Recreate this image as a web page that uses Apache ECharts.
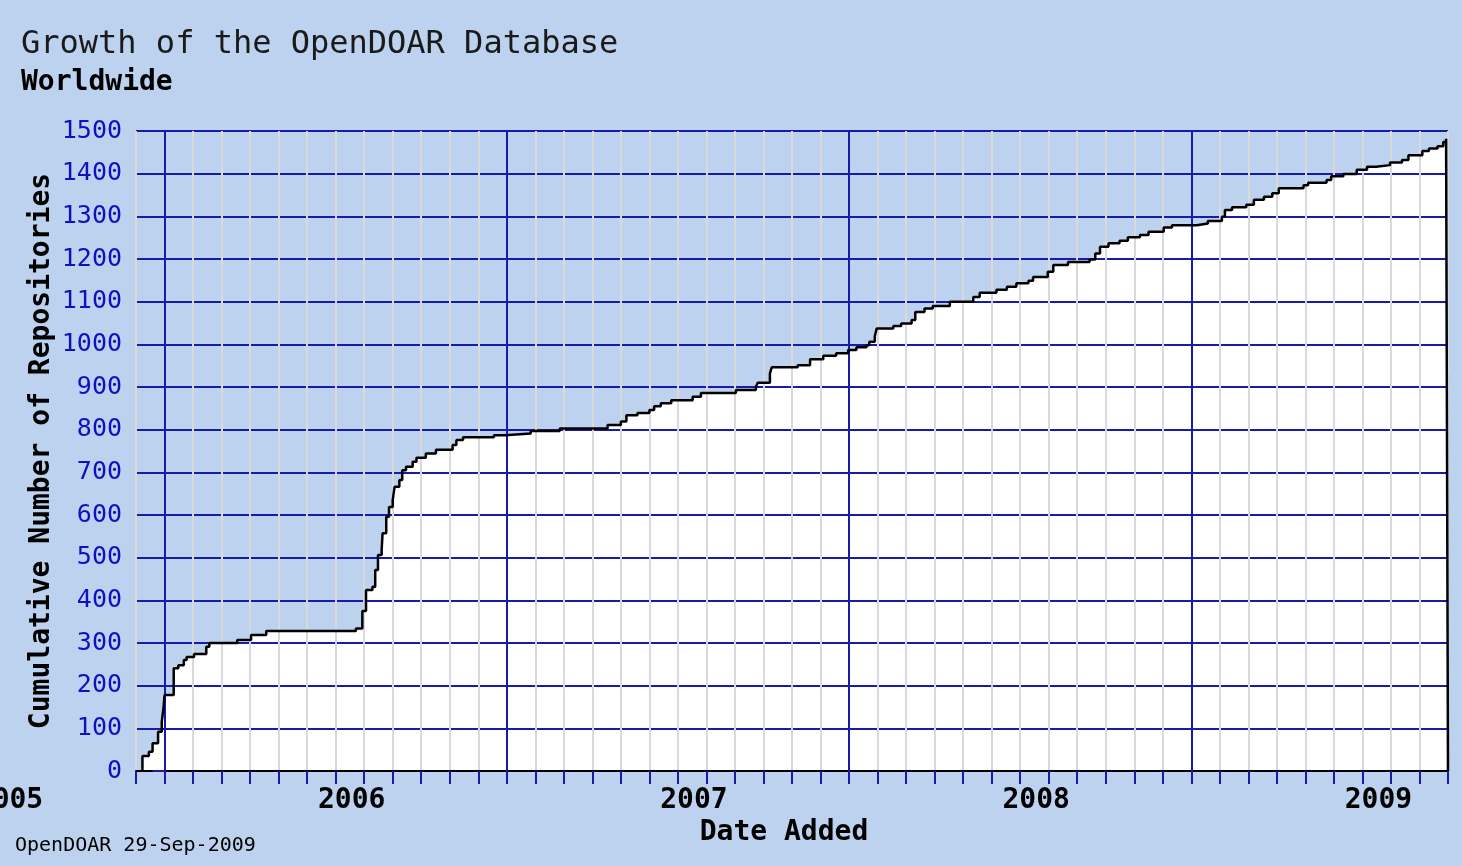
<!DOCTYPE html>
<html>
<head>
<meta charset="utf-8">
<title>Growth of the OpenDOAR Database</title>
<script src="https://cdn.jsdelivr.net/npm/echarts@6/dist/echarts.min.js"></script>
<style>
  html, body { margin: 0; padding: 0; background: #bcd2ee; }
  #main { width: 1462px; height: 866px; }
</style>
</head>
<body>
<div id="main"></div>
<script>
// date a repository count changed, and the cumulative count from that date
const dates = [
    '2005-12-08', '2005-12-15', '2005-12-19', '2005-12-25', '2005-12-29', '2005-12-31',
    '2006-01-01', '2006-01-11', '2006-01-16', '2006-01-22', '2006-01-25', '2006-02-02',
    '2006-02-14', '2006-02-17', '2006-03-18', '2006-04-02', '2006-04-18', '2006-07-23',
    '2006-07-30', '2006-08-03', '2006-08-10', '2006-08-13', '2006-08-16', '2006-08-20',
    '2006-08-21', '2006-08-25', '2006-08-28', '2006-09-01', '2006-09-03', '2006-09-08',
    '2006-09-11', '2006-09-15', '2006-09-22', '2006-09-26', '2006-10-06', '2006-10-17',
    '2006-11-04', '2006-11-08', '2006-11-15', '2006-12-18', '2006-12-30', '2007-01-27',
    '2007-02-25', '2007-04-17', '2007-05-01', '2007-05-07', '2007-05-19', '2007-06-01',
    '2007-06-06', '2007-06-13', '2007-06-24', '2007-07-17', '2007-07-26', '2007-09-02',
    '2007-09-23', '2007-09-25', '2007-10-08', '2007-10-10', '2007-11-07', '2007-11-20',
    '2007-12-04', '2007-12-18', '2007-12-31', '2008-01-09', '2008-01-20', '2008-01-23',
    '2008-01-29', '2008-01-31', '2008-02-17', '2008-02-25', '2008-03-07', '2008-03-11',
    '2008-03-21', '2008-03-30', '2008-04-17', '2008-05-12', '2008-05-19', '2008-06-06',
    '2008-06-17', '2008-06-27', '2008-07-10', '2008-07-15', '2008-07-31', '2008-08-06',
    '2008-08-22', '2008-09-14', '2008-09-20', '2008-09-25', '2008-10-04', '2008-10-16',
    '2008-10-25', '2008-11-07', '2008-11-16', '2008-12-02', '2008-12-11', '2009-01-07',
    '2009-01-19', '2009-02-03', '2009-02-06', '2009-02-13', '2009-02-27', '2009-03-07',
    '2009-03-18', '2009-03-27', '2009-04-03', '2009-04-29', '2009-05-04', '2009-05-24',
    '2009-05-29', '2009-06-11', '2009-06-25', '2009-07-06', '2009-07-16', '2009-07-31',
    '2009-08-13', '2009-08-20', '2009-09-04', '2009-09-11', '2009-09-20', '2009-09-26',
    '2009-09-29'
]
const counts = [
    35, 45, 65, 92, 115, 150,
    178, 241, 248, 260, 267, 274,
    291, 300, 307, 319, 328, 334,
    375, 424, 432, 471, 506, 518,
    557, 596, 619, 635, 666, 682,
    705, 713, 725, 734, 744, 753,
    764, 776, 782, 787, 791, 797,
    803, 811, 819, 834, 839, 846,
    855, 862, 869, 877, 886, 893,
    900, 910, 932, 946, 951, 965,
    973, 979, 987, 993, 998, 1006,
    1019, 1037, 1043, 1049, 1057, 1076,
    1084, 1090, 1100, 1111, 1121, 1128,
    1135, 1143, 1149, 1158, 1170, 1186,
    1193, 1199, 1213, 1229, 1237, 1243,
    1251, 1256, 1264, 1274, 1279, 1283,
    1289, 1299, 1315, 1321, 1327, 1339,
    1346, 1354, 1366, 1373, 1379, 1385,
    1394, 1399, 1409, 1416, 1420, 1426,
    1432, 1443, 1453, 1459, 1464, 1474,
    1482
]
const yearStarts = ['2006-01-01', '2007-01-01', '2008-01-01', '2009-01-01']
const yearLabels = ['2005', '2006', '2007', '2008', '2009']
const axisStart = '2005-12-01'
const axisEnd = '2009-10-01'
const yMin = 0, yMax = 1500, yStep = 100

const MONO = '"DejaVu Sans Mono", monospace'
const BLUE = '#1a1aa8'

// months since Jan 2006, with the day as a fraction of the month
function toMonth(s) {
    const p = s.split('-').map(Number)
    const days = new Date(p[0], p[1], 0).getDate()
    return (p[0] - 2006) * 12 + (p[1] - 1) + (p[2] - 1) / days
}

const xMin = toMonth(axisStart)
const xMax = toMonth(axisEnd)

const points = dates.map((d, i) => [toMonth(d), counts[i]])
points.unshift([points[0][0], 0])
points.push([xMax, counts[counts.length - 1]])
points.push([xMax, 0])

var myChart = echarts.init(document.getElementById('main'))

option = {
    backgroundColor: '#bcd2ee',
    animation: false,
    title: [{
        text: 'Growth of the OpenDOAR Database',
        subtext: 'Worldwide',
        left: 16,
        top: 24,
        itemGap: 8,
        textStyle: { fontFamily: MONO, fontSize: 32, fontWeight: 'normal', color: '#1a1a1a' },
        subtextStyle: { fontFamily: MONO, fontSize: 28, fontWeight: 'bold', color: '#000' }
    }, {
        text: 'OpenDOAR 29-Sep-2009',
        left: 10,
        bottom: 5,
        textStyle: { fontFamily: MONO, fontSize: 20, fontWeight: 'normal', color: '#000' }
    }],
    grid: { left: 136, right: 14, top: 131, bottom: 95, containLabel: false, outerBoundsMode: 'none' },
    xAxis: {
        type: 'value',
        min: xMin,
        max: xMax,
        interval: 1,
        z: 3,
        name: 'Date Added',
        nameLocation: 'middle',
        nameGap: 48,
        nameMoveOverlap: false,
        nameTextStyle: { fontFamily: MONO, fontSize: 28, fontWeight: 'bold', color: '#000', padding: [0, 16, 0, 0] },
        axisLine: { lineStyle: { color: '#000', width: 2 } },
        axisTick: { length: 13, lineStyle: { color: BLUE, width: 2 } },
        splitLine: { show: true, lineStyle: { color: '#d9d9d9', width: 2 } },
        axisLabel: {
            margin: 16,
            fontFamily: MONO,
            fontSize: 28,
            fontWeight: 'bold',
            color: '#000',
            formatter: function (v) {
                const m = Math.round(v)
                if (m === Math.round(xMin)) return '{f|' + yearLabels[0] + '}'
                if (m >= 7 && (m - 7) % 12 === 0) return '{y|' + yearLabels[(m - 7) / 12 + 1] + '}'
                return ''
            },
            rich: {
                f: { fontFamily: MONO, fontSize: 28, fontWeight: 'bold', color: '#000', padding: [0, 253, 0, 0] },
                y: { fontFamily: MONO, fontSize: 28, fontWeight: 'bold', color: '#000', padding: [0, 25, 0, 0] }
            }
        }
    },
    yAxis: {
        type: 'value',
        min: yMin,
        max: yMax,
        interval: yStep,
        z: 3,
        name: 'Cumulative Number of Repositories',
        nameLocation: 'middle',
        nameGap: 80,
        nameMoveOverlap: false,
        nameTextStyle: { fontFamily: MONO, fontSize: 28, fontWeight: 'bold', color: '#000' },
        axisLine: { show: true, lineStyle: { color: BLUE, width: 2 } },
        axisTick: { show: true, length: 12, lineStyle: { color: BLUE, width: 2 } },
        splitLine: { show: true, lineStyle: { color: BLUE, width: 2 } },
        axisLabel: {
            margin: 14,
            fontFamily: MONO,
            fontSize: 25,
            color: '#1010c0',
            formatter: function (v) { return String(v) }
        }
    },
    series: [{
        name: 'fill',
        type: 'line',
        step: 'end',
        z: 1,
        symbol: 'none',
        silent: true,
        data: points,
        lineStyle: { width: 0 },
        areaStyle: { color: '#ffffff', opacity: 1 },
        markLine: {
            z: 4,
            silent: true,
            symbol: 'none',
            label: { show: false },
            lineStyle: { color: BLUE, width: 2, type: 'solid' },
            data: yearStarts.map(d => ({ xAxis: toMonth(d) }))
        }
    }, {
        name: 'Cumulative Number of Repositories',
        type: 'line',
        step: 'end',
        z: 6,
        symbol: 'none',
        data: points,
        lineStyle: { color: '#000', width: 2.5 }
    }]
}

myChart.setOption(option)
</script>
</body>
</html>
